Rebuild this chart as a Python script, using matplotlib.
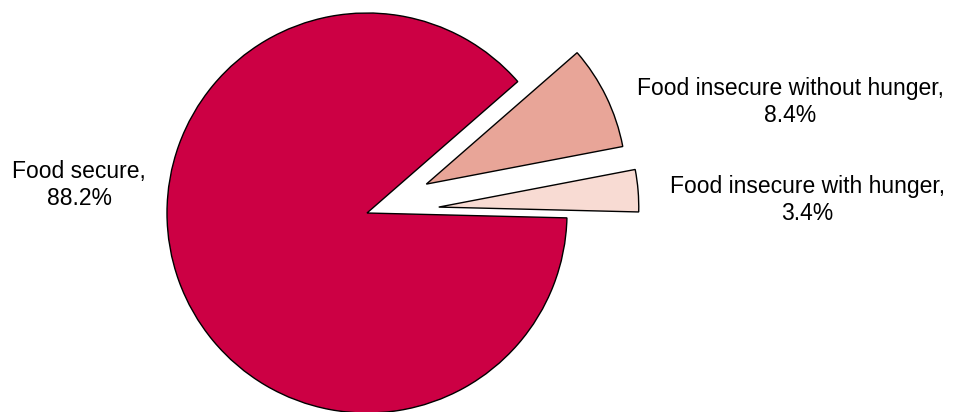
import matplotlib.pyplot as plt

plt.rcParams['font.family'] = ['Liberation Sans', 'DejaVu Sans']

# data
labels = ["Food insecure with hunger,\n3.4%", "Food insecure without hunger,\n8.4%", "Food secure,\n88.2%"]
shares = [3.4, 8.4, 88.2]
colors = ["#f8dbd3", "#e8a598", "#cc0044"]
explode = [0.36, 0.33, 0.0]

fig = plt.figure(figsize=(9.55, 4.12), dpi=100)
ax = fig.add_axes([0, 0, 1, 1])

ax.pie(shares, colors=colors, explode=explode, startangle=-1.4, counterclock=True,
       radius=1.0, wedgeprops=dict(edgecolor="black", linewidth=1.0))

# labels placed by hand next to the slices
label_pos = [(2.2, 0.065), (2.115, 0.555), (-1.44, 0.14)]
for txt, (x, y) in zip(labels, label_pos):
    ax.text(x, y, txt, ha="center", va="center", fontsize=16.5, color="black")

# center of the pie at pixel (367, 213), radius 200 px
ax.set_xlim(-367/200, (955-367)/200)
ax.set_ylim(-199/200, 213/200)
ax.set_aspect("auto")
ax.axis("off")

fig.savefig("out.png", dpi=100)
